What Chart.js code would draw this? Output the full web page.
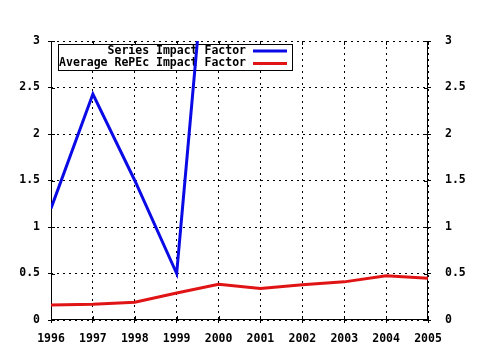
<!DOCTYPE html>
<html lang="en">
<head>
  <meta charset="UTF-8" />
  <title>Impact Factor</title>
  <script src="https://cdn.jsdelivr.net/npm/chart.js"></script>
  <style>
    html, body { margin: 0; padding: 0; background: #fff; }
    #chart { display: block; }
  </style>
</head>
<body>
  <canvas id="chart" width="480" height="350"></canvas>

  <script>
    // data
    var years = [1996, 1997, 1998, 1999, 2000, 2001, 2002, 2003, 2004, 2005];
    var seriesImpact = [1.2, 2.43, 1.5, 0.5, 5.55, null, null, null, null, null];
    var repecImpact = [0.16, 0.17, 0.19, 0.29, 0.385, 0.34, 0.38, 0.41, 0.475, 0.45];
    var yMin = 0, yMax = 3, yStep = 0.5;

    var FONT = { family: '"DejaVu Sans Mono", monospace', size: 11.5, weight: 'bold' };
    var DOT = [2, 4];

    function points(vals) {
      return years.map(function(y, i) { return { x: y, y: vals[i] }; });
    }

    // gnuplot style key: text right aligned, sample line after it, white box
    var keyBox = {
      id: 'keyBox',
      beforeDatasetsDraw: function(chart) {
        var c = chart.ctx, a = chart.chartArea;
        c.save();
        // solid axis lines + mirrored ticks (grid lines are dotted)
        c.strokeStyle = '#000';
        c.lineWidth = 1;
        var xs = chart.scales.x, ys = chart.scales.y;
        xs.ticks.forEach(function(t) {
          var px = Math.round(xs.getPixelForValue(t.value)) + 0.5;
          c.beginPath();
          c.moveTo(px, a.top); c.lineTo(px, a.top + 4);
          c.moveTo(px, a.bottom); c.lineTo(px, a.bottom - 4);
          c.stroke();
        });
        ys.ticks.forEach(function(t) {
          var py = Math.round(ys.getPixelForValue(t.value)) + 0.5;
          c.beginPath();
          c.moveTo(a.left, py); c.lineTo(a.left + 4, py);
          c.moveTo(a.right, py); c.lineTo(a.right - 4, py);
          c.stroke();
        });
        c.beginPath();
        c.moveTo(Math.round(a.left) + 0.5, a.top); c.lineTo(Math.round(a.left) + 0.5, a.bottom);
        c.moveTo(Math.round(a.right) - 0.5, a.top); c.lineTo(Math.round(a.right) - 0.5, a.bottom);
        c.moveTo(a.left, Math.round(a.bottom) - 0.5); c.lineTo(a.right, Math.round(a.bottom) - 0.5);
        c.stroke();

        c.fillStyle = '#fff';
        c.fillRect(58, 44, 234, 26);
        c.strokeRect(58.5, 44.5, 234, 26);
        c.font = FONT.weight + ' ' + FONT.size + 'px ' + FONT.family;
        c.textAlign = 'right';
        c.textBaseline = 'middle';
        chart.data.datasets.forEach(function(ds, i) {
          var y = 51 + i * 12.5;
          c.fillStyle = '#000';
          c.fillText(ds.label, 246, y);
          c.strokeStyle = ds.borderColor;
          c.lineWidth = 3;
          c.beginPath();
          c.moveTo(253, y);
          c.lineTo(287, y);
          c.stroke();
        });
        c.restore();
      }
    };

    function num(v) { return String(v); }

    new Chart(document.getElementById('chart'), {
      type: 'line',
      data: {
        datasets: [
          {
            label: 'Series Impact Factor',
            data: points(seriesImpact),
            borderColor: '#0a0ae6',
            borderWidth: 3,
            pointRadius: 0,
            tension: 0,
            spanGaps: false,
            clip: 0
          },
          {
            label: 'Average RePEc Impact Factor',
            data: points(repecImpact),
            borderColor: '#e01414',
            borderWidth: 3,
            pointRadius: 0,
            tension: 0,
            clip: 0
          }
        ]
      },
      options: {
        responsive: false,
        animation: false,
        events: [],
        layout: { padding: { top: 41, left: 0, right: 0, bottom: 0 } },
        plugins: { legend: { display: false }, tooltip: { enabled: false } },
        scales: {
          x: {
            type: 'linear',
            min: years[0],
            max: years[years.length - 1],
            afterFit: function(s) { s.height = 30; },
            afterBuildTicks: function(s) { s.ticks = years.map(function(v) { return { value: v }; }); },
            border: { display: false, dash: DOT },
            grid: { color: '#000', lineWidth: 1, tickLength: 3, tickBorderDash: [], tickColor: '#000' },
            ticks: { color: '#000', font: FONT, padding: 9, maxRotation: 0, autoSkip: false, callback: num }
          },
          y: {
            position: 'left',
            min: yMin, max: yMax,
            afterFit: function(s) { s.width = 51; },
            border: { display: false, dash: DOT },
            grid: { color: '#000', lineWidth: 1, tickLength: 3, tickBorderDash: [], tickColor: '#000' },
            ticks: { stepSize: yStep, color: '#000', font: FONT, padding: 8, callback: num }
          },
          y2: {
            position: 'right',
            min: yMin, max: yMax,
            afterFit: function(s) { s.width = 52; },
            border: { display: false },
            grid: { drawOnChartArea: false, tickLength: 3, tickColor: '#000' },
            ticks: { stepSize: yStep, color: '#000', font: FONT, padding: 14, callback: num }
          }
        }
      },
      plugins: [keyBox]
    });
  </script>
</body>
</html>
